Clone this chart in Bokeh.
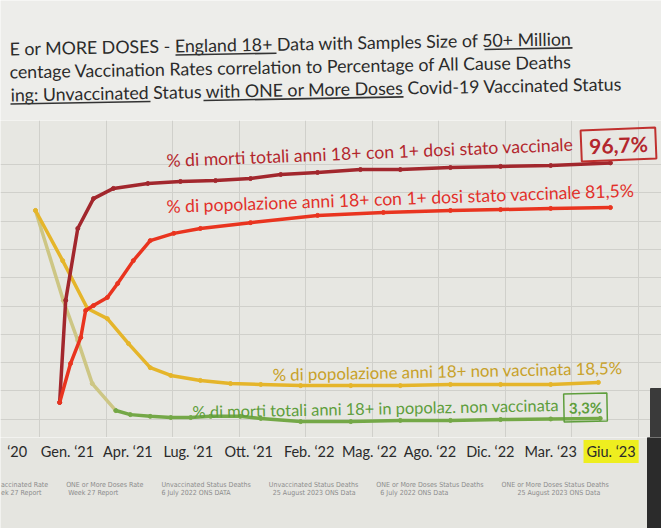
from bokeh.plotting import figure
from bokeh.models import Range1d, FixedTicker, ColumnDataSource, Legend, LegendItem
from bokeh.layouts import column
from bokeh.embed import file_html
from bokeh.resources import INLINE
from bokeh.core.properties import value

# ---------------- data (x = position on the month axis, 0 = Ott.'20 ... 10 = Giu.'23) --------
tick_labels = ["‘20", "Gen. ‘21", "Apr. ‘21", "Lug. ‘21", "Ott. ‘21", "Feb. ‘22",
               "Mag. ‘22", "Ago. ‘22", "Dic. ‘22", "Mar. ‘23", "Giu. ‘23"]
tick_pos = [0, 1, 2, 3, 4, 5, 6, 7, 8, 9, 10]

# % of deaths 18+ with 1+ doses
vacc_deaths_x = [0.87, 0.97, 1.17, 1.43, 1.76, 2.33, 2.87, 3.45, 4.03, 4.53, 5.14, 5.85,
                 6.51, 7.34, 8.17, 9.00, 9.99]
vacc_deaths_y = [11.4, 46.6, 71.4, 81.7, 85.2, 86.9, 87.6, 87.9, 88.6, 90.0, 90.7, 91.7,
                 91.7, 92.4, 92.8, 93.1, 94.0]

# % of population 18+ with 1+ doses
vacc_pop_x = [0.87, 1.05, 1.22, 1.30, 1.43, 1.66, 1.83, 2.09, 2.37, 2.76, 3.20, 4.03,
              5.14, 6.23, 7.34, 8.17, 9.00, 9.99]
vacc_pop_y = [11.4, 24.8, 33.8, 43.1, 44.8, 47.6, 52.4, 60.3, 67.2, 69.7, 71.4, 73.4,
              75.9, 76.9, 77.6, 77.9, 78.3, 78.6]

# % of population 18+ unvaccinated
unvacc_pop_x = [0.47, 0.92, 1.33, 1.66, 2.01, 2.37, 2.71, 3.20, 3.70, 4.20, 4.86, 5.69,
                6.51, 7.34, 8.17, 9.00, 9.79]
unvacc_pop_y = [77.6, 60.3, 43.8, 40.3, 31.7, 23.4, 20.7, 19.0, 17.9, 17.6, 17.2, 17.2,
                17.2, 17.6, 17.6, 17.6, 18.3]

# % of deaths 18+ unvaccinated (first part: 6 July 2022 data, then 25 August 2023 data)
unvacc_deaths_early_x = [0.47, 0.93, 1.17, 1.41, 1.80]
unvacc_deaths_early_y = [77.6, 46.6, 32.8, 17.9, 8.6]
unvacc_deaths_x = [1.80, 2.04, 2.37, 2.71, 3.04, 3.37, 3.86, 4.20, 4.86, 5.69, 6.51,
                   7.34, 8.17, 9.00, 9.82]
unvacc_deaths_y = [8.6, 7.2, 6.6, 6.2, 6.2, 6.6, 6.6, 5.9, 4.8, 4.8, 5.2, 5.2, 5.5, 5.7, 5.9]

title_lines = [
    "E or MORE DOSES - England 18+ Data with Samples Size of 50+ Million",
    "centage Vaccination Rates correlation to Percentage of All Cause Deaths",
    "ing: Unvaccinated Status with ONE or More Doses Covid-19 Vaccinated Status",
]
lbl_vacc_deaths = "% di morti totali anni 18+ con 1+ dosi stato vaccinale"
val_vacc_deaths = "96,7%"
lbl_vacc_pop = "% di popolazione anni 18+ con 1+ dosi stato vaccinale 81,5%"
lbl_unvacc_pop = "% di popolazione anni 18+ non vaccinata  18,5%"
lbl_unvacc_deaths = "% di morti totali anni 18+ in popolaz. non vaccinata"
val_unvacc_deaths = "3,3%"

legend_labels = [
    "accinated Rate\nek 27 Report",
    "ONE or More Doses Rate\n Week 27 Report",
    "Unvaccinated Status Deaths\n6 July 2022 ONS DATA",
    "Unvaccinated Status Deaths\n  25 August 2023 ONS Data",
    "ONE or More Doses Status Deaths\n  6 July 2022 ONS Data",
    "ONE or More Doses Status Deaths\n        25 August 2023 ONS Data",
]
legend_colors = ["#8a9bb8", "#7f8fae", "#e9b232", "#78a545", "#2c3a78", "#6f80a8"]

# ---------------- styling ----------------
W = 661
FONT = "Lato"
C_DRED = "#a2272d"
C_RED = "#e9341f"
C_YEL = "#e5b52a"
C_PALE = "#cdc684"
C_GRN = "#74a847"


def xpx(px):  # image pixel -> x axis units
    return (px - 6.6) / 60.4


def ypx(py):  # image pixel -> y units of the chart
    return (435 - py) / 2.9


xr = Range1d(xpx(0), xpx(W))

# ---- title strip ----
pa = figure(width=W, height=120, x_range=Range1d(0, W), y_range=Range1d(120, 0),
            x_axis_location=None, y_axis_location=None, toolbar_location=None,
            output_backend="svg", min_border=0)
pa.grid.visible = False
pa.outline_line_color = None
pa.background_fill_color = "#ededea"
pa.border_fill_color = "#ededea"
pa.text(x=[9, 9, 10], y=[48, 71, 94], text=title_lines, text_font=value(FONT),
        text_font_size="17.8px", text_color="#2b2b2b", text_baseline="middle", angle=0.018)
pa.segment(x0=[175, 484, 10, 203], y0=[54.5, 49.0, 103.5, 100.0],
           x1=[276, 572, 150, 403], y1=[52.7, 47.4, 101.0, 96.4],
           line_color="#333333", line_width=1.6)

# ---- chart ----
pb = figure(width=W, height=317, x_range=xr, y_range=Range1d(ypx(437), ypx(120)),
            x_axis_location=None, y_axis_location=None, toolbar_location=None,
            output_backend="svg", min_border=0)
pb.outline_line_color = None
pb.background_fill_color = "#e7e7e2"
pb.border_fill_color = "#e7e7e2"
pb.xgrid.ticker = FixedTicker(ticks=[xpx(39 + 66.5 * k) for k in range(10)])
pb.ygrid.ticker = FixedTicker(ticks=[ypx(164 + 28.3 * k) for k in range(10)])
pb.grid.grid_line_color = "#d0d0cb"
pb.grid.grid_line_width = 1
pb.quad(left=[xpx(650)], right=[xpx(W)], top=[ypx(388)], bottom=[ypx(437)], color="#3a3a3a")

for xs, ys, col in [(unvacc_deaths_early_x, unvacc_deaths_early_y, C_PALE),
                    (unvacc_deaths_x, unvacc_deaths_y, C_GRN),
                    (unvacc_pop_x, unvacc_pop_y, C_YEL),
                    (vacc_deaths_x, vacc_deaths_y, C_DRED),
                    (vacc_pop_x, vacc_pop_y, C_RED)]:
    pb.line(xs, ys, line_color=col, line_width=3.5, line_join="round")
    pb.scatter(xs, ys, size=4, color=col)

pb.text(x=[xpx(166)], y=[ypx(160)], text=[lbl_vacc_deaths], text_font=value(FONT),
        text_font_size="17.6px", text_color="#b3262d", text_align="left",
        text_baseline="middle", angle=0.040)
pb.text(x=[xpx(618)], y=[ypx(144)], text=[val_vacc_deaths], text_font=value(FONT),
        text_font_size="21px", text_font_style="bold", text_color="#b3262d",
        text_align="center", text_baseline="middle", angle=0.040,
        border_line_color="#c0302e", border_line_width=2, padding=(8, 3))
pb.text(x=[xpx(166)], y=[ypx(206)], text=[lbl_vacc_pop], text_font=value(FONT),
        text_font_size="17.6px", text_color="#e2302a", text_align="left",
        text_baseline="middle", angle=0.035)
pb.text(x=[xpx(272)], y=[ypx(374)], text=[lbl_unvacc_pop], text_font=value(FONT),
        text_font_size="16.8px", text_color="#c8a129", text_align="left",
        text_baseline="middle", angle=0.02)
pb.text(x=[xpx(192)], y=[ypx(411)], text=[lbl_unvacc_deaths], text_font=value(FONT),
        text_font_size="16.4px", text_color="#5e9e3c", text_align="left",
        text_baseline="middle", angle=0.019)
pb.text(x=[xpx(585)], y=[ypx(407)], text=[val_unvacc_deaths], text_font=value(FONT),
        text_font_size="15px", text_font_style="bold", text_color="#5e9e3c",
        text_align="center", text_baseline="middle", angle=0.019,
        border_line_color="#5e9e3c", border_line_width=1.5, padding=(5, 5))

# ---- axis labels + legend strip ----
pc = figure(width=W, height=91, x_range=xr, y_range=Range1d(91, 0),
            x_axis_location=None, y_axis_location=None, toolbar_location=None,
            output_backend="svg", min_border=0)
pc.grid.visible = False
pc.outline_line_color = None
pc.background_fill_color = "#e5e5e0"
pc.border_fill_color = "#e5e5e0"
tsrc = ColumnDataSource(dict(
    x=tick_pos, y=[14] * len(tick_pos), text=tick_labels,
    off=[10] + [0] * (len(tick_pos) - 1),
    bg=[None] * (len(tick_pos) - 1) + ["#eeee1f"],
))
pc.text(x="x", y="y", text="text", x_offset="off", source=tsrc, text_font=value(FONT),
        text_font_size="14.5px", text_color="#2a2a2a", text_align="center",
        text_baseline="middle", background_fill_color="bg", padding=3)
pc.quad(left=[xpx(647)], right=[xpx(W)], top=[0], bottom=[91], color="#2b2b2b")

items = []
for i, (lab, col) in enumerate(zip(legend_labels, legend_colors)):
    r = pc.line(x=[], y=[], line_color=col, line_width=1.5, line_alpha=0 if i == 0 else 1)
    items.append(LegendItem(label=lab, renderers=[r]))
leg = Legend(items=items, orientation="horizontal", location=(-12, 31),
             label_text_font="'DejaVu Sans Condensed', 'Liberation Sans', sans-serif",
             label_text_font_size="7px", label_text_color="#8c8c8c",
             glyph_width=10, glyph_height=6, label_standoff=3,
             spacing=5, padding=0, margin=0, border_line_color=None,
             background_fill_alpha=0, label_height=8)
pc.add_layout(leg)

layout = column(pa, pb, pc, spacing=0)
open("out.html", "w").write(file_html(layout, INLINE))
